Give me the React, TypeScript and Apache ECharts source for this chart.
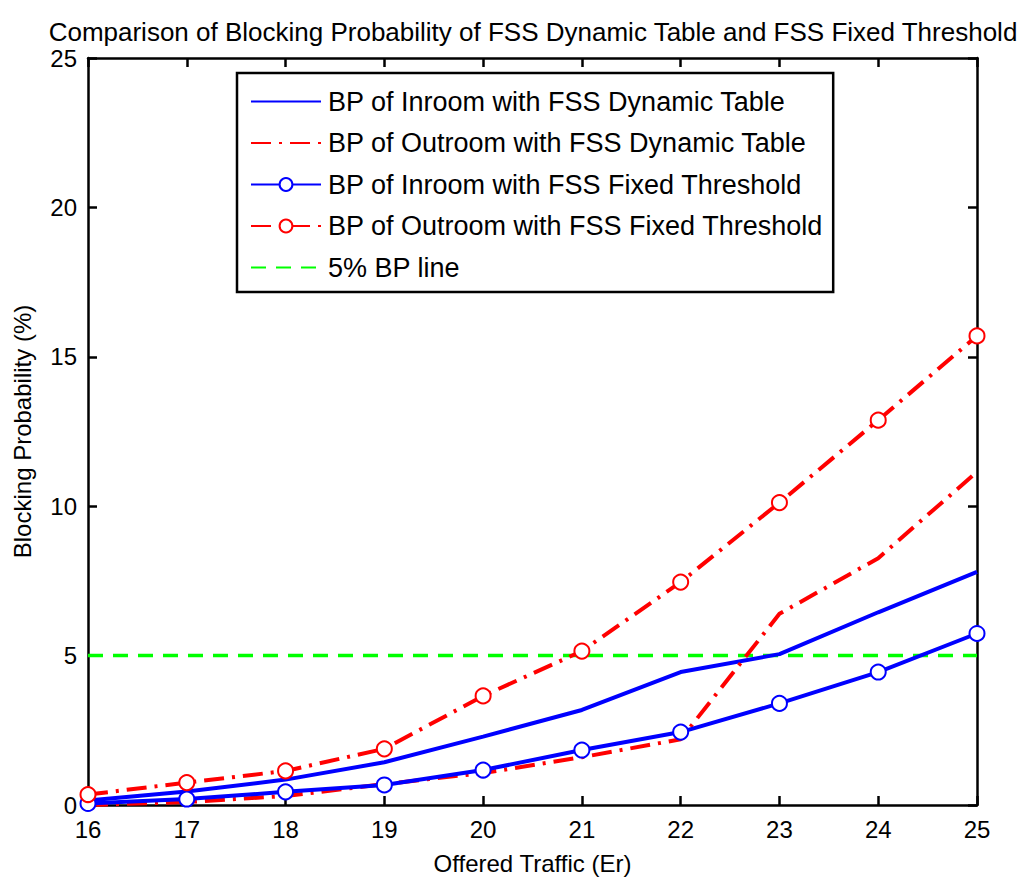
import React, { useEffect, useRef } from "react";
import * as echarts from "echarts";

const traffic = [16, 17, 18, 19, 20, 21, 22, 23, 24, 25];
const inroomDynamic = [0.15, 0.45, 0.85, 1.43, 2.29, 3.18, 4.45, 5.05, 6.45, 7.8];
const outroomDynamic = [0.0, 0.1, 0.3, 0.7, 1.07, 1.6, 2.2, 6.4, 8.26, 11.15];
const inroomFixed = [0.05, 0.2, 0.44, 0.67, 1.17, 1.84, 2.44, 3.4, 4.45, 5.74];
const outroomFixed = [0.35, 0.75, 1.14, 1.88, 3.65, 5.15, 7.46, 10.12, 12.88, 15.7];
const bpLine = [5, 5, 5, 5, 5, 5, 5, 5, 5, 5];

const seriesNames = [
  "BP of Inroom with FSS Dynamic Table",
  "BP of Outroom with FSS Dynamic Table",
  "BP of Inroom with FSS Fixed Threshold",
  "BP of Outroom with FSS Fixed Threshold",
  "5% BP line",
];

const FONT = "'Liberation Sans', Arial, sans-serif";

const pairs = (ys: number[]) => traffic.map((x, i) => [x, ys[i]]);

export default function App() {
  const ref = useRef<HTMLDivElement>(null);
  useEffect(() => {
    if (!ref.current) return;
    const chart = echarts.init(ref.current, null, { renderer: "svg" });
    const dashDot = [20, 8, 3, 8];
    const hiddenIcon = { color: "rgba(0,0,0,0)", borderColor: "rgba(0,0,0,0)", opacity: 0 };
    const axisCommon = {
      type: "value" as const,
      axisLine: { show: true, onZero: false, lineStyle: { color: "#000", width: 2.5 } },
      axisTick: { show: true, inside: true, length: 9, lineStyle: { color: "#000", width: 2.5 } },
      splitLine: { show: false },
    };
    chart.setOption({
      animation: false,
      backgroundColor: "#fff",
      title: {
        text: "Comparison of Blocking Probability of FSS Dynamic Table and FSS Fixed Threshold",
        left: 528,
        textAlign: "center",
        top: 14,
        textStyle: { fontFamily: FONT, fontSize: 26, fontWeight: "normal", color: "#000" },
      },
      grid: { left: 88, right: 45, top: 58, bottom: 80 },
      legend: {
        orient: "vertical",
        left: 237,
        top: 73,
        padding: [15, 10, 11, 13],
        backgroundColor: "#fff",
        borderColor: "#000",
        borderWidth: 2.5,
        itemWidth: 70,
        itemHeight: 16,
        itemGap: 14.5,
        textStyle: { fontFamily: FONT, fontSize: 27, color: "#000", padding: [0, 0, 0, 2] },
        data: [
          { name: seriesNames[0], itemStyle: hiddenIcon },
          { name: seriesNames[1], itemStyle: hiddenIcon },
          { name: seriesNames[2] },
          { name: seriesNames[3] },
          { name: seriesNames[4], itemStyle: hiddenIcon },
        ],
      },
      xAxis: [
        {
          ...axisCommon,
          min: 16,
          max: 25,
          interval: 1,
          position: "bottom",
          name: "Offered Traffic (Er)",
          nameLocation: "middle",
          nameGap: 46,
          nameTextStyle: { fontFamily: FONT, fontSize: 24, color: "#000" },
          axisLabel: { fontFamily: FONT, fontSize: 24, color: "#000", margin: 12 },
        },
        {
          ...axisCommon,
          min: 16,
          max: 25,
          interval: 1,
          position: "top",
          axisLabel: { show: false },
        },
      ],
      yAxis: [
        {
          ...axisCommon,
          min: 0,
          max: 25,
          interval: 5,
          position: "left",
          name: "Blocking Probability (%)",
          nameLocation: "middle",
          nameGap: 54,
          nameTextStyle: { fontFamily: FONT, fontSize: 24, color: "#000" },
          axisLabel: { fontFamily: FONT, fontSize: 24, color: "#000", margin: 11 },
        },
        {
          ...axisCommon,
          min: 0,
          max: 25,
          interval: 5,
          position: "right",
          axisLabel: { show: false },
        },
      ],
      series: [
        {
          name: seriesNames[4],
          type: "line",
          data: pairs(bpLine),
          symbol: "none",
          color: "#00ff00",
          lineStyle: { color: "#00ff00", width: 3.5, type: [15, 10] },
          z: 1,
        },
        {
          name: seriesNames[0],
          type: "line",
          data: pairs(inroomDynamic),
          symbol: "none",
          color: "#0000ff",
          lineStyle: { color: "#0000ff", width: 4 },
        },
        {
          name: seriesNames[1],
          type: "line",
          data: pairs(outroomDynamic),
          symbol: "none",
          color: "#ff0000",
          lineStyle: { color: "#ff0000", width: 4, type: dashDot },
        },
        {
          name: seriesNames[2],
          type: "line",
          data: pairs(inroomFixed),
          symbol: "emptyCircle",
          symbolSize: 15,
          color: "#0000ff",
          itemStyle: { color: "#0000ff", borderWidth: 2.5 },
          lineStyle: { color: "#0000ff", width: 4 },
        },
        {
          name: seriesNames[3],
          type: "line",
          data: pairs(outroomFixed),
          symbol: "emptyCircle",
          symbolSize: 15,
          color: "#ff0000",
          itemStyle: { color: "#ff0000", borderWidth: 2.5 },
          lineStyle: { color: "#ff0000", width: 4, type: dashDot },
        },
      ],
    });
    return () => chart.dispose();
  }, []);
  return (
    <div
      ref={ref}
      style={{ position: "absolute", left: 0, top: 0, width: 1022, height: 885 }}
    />
  );
}
